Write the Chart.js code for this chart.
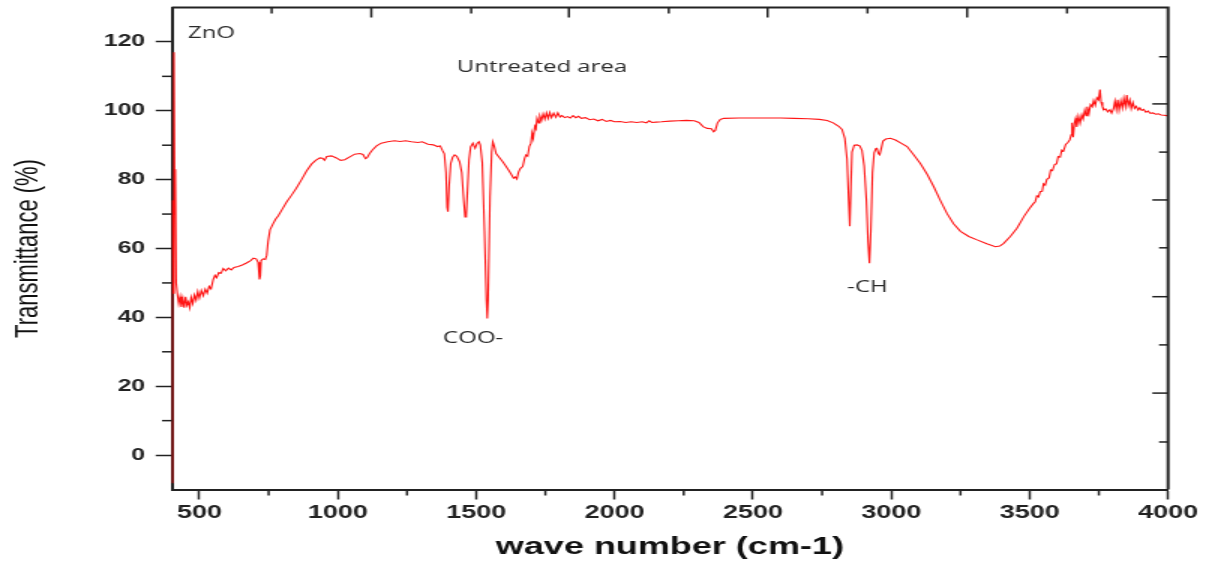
<!DOCTYPE html>
<html>
<head>
<meta charset="utf-8">
<script src="https://cdn.jsdelivr.net/npm/chart.js@4.4.1/dist/chart.umd.min.js"></script>
<style>
  html, body { margin: 0; padding: 0; background: #fff; overflow: hidden; }
  #wrap { width: 806px; height: 563px; transform: scaleX(1.5); transform-origin: 0 0; }
</style>
</head>
<body>
<div id="wrap"><canvas id="c"></canvas></div>
<script>
// ---- data ----
const waveNumbers = [400,402,405,408,411,413,416,420,425,430,435,440,445,450,455,460,465,470,476,482,488,494,500,507,514,521,528,535,542,550,556,562,570,578,586,595,605,615,625,640,655,670,685,695,705,712,717,720,723,730,738,743,748,755,765,775,785,800,815,833,850,869,887,905,920,935,945,952,960,977,995,1010,1025,1045,1061,1080,1091,1100,1106,1115,1125,1140,1157,1180,1205,1225,1245,1266,1290,1305,1326,1345,1360,1370,1378,1385,1391,1395,1398,1402,1408,1415,1422,1430,1440,1448,1455,1460,1464,1468,1474,1480,1488,1496,1503,1510,1515,1522,1530,1537,1540,1543,1550,1556,1560,1565,1572,1580,1588,1596,1605,1615,1625,1635,1641,1647,1653,1660,1668,1675,1680,1686,1692,1698,1702,1706,1712,1716,1720,1726,1730,1736,1742,1748,1754,1760,1766,1772,1780,1788,1795,1803,1810,1820,1830,1840,1850,1860,1870,1880,1895,1910,1925,1940,1955,1970,1985,2000,2020,2040,2060,2080,2100,2115,2125,2135,2150,2170,2200,2230,2260,2288,2305,2320,2335,2350,2358,2364,2372,2382,2395,2450,2528,2600,2648,2700,2740,2768,2790,2810,2822,2832,2840,2846,2850,2854,2858,2866,2876,2886,2894,2902,2910,2916,2921,2926,2932,2938,2944,2948,2954,2958,2963,2970,2980,2997,3015,3035,3057,3080,3105,3130,3153,3177,3201,3225,3250,3280,3310,3345,3376,3392,3406,3430,3454,3480,3500,3514,3520,3526,3532,3538,3545,3550,3556,3562,3570,3576,3582,3590,3597,3603,3610,3616,3622,3630,3638,3645,3650,3653,3657,3662,3666,3670,3676,3682,3688,3693,3699,3704,3708,3714,3720,3726,3731,3737,3743,3749,3754,3758,3763,3769,3775,3782,3790,3796,3803,3808,3813,3818,3823,3829,3835,3840,3846,3851,3856,3862,3867,3873,3879,3885,3892,3898,3905,3912,3920,3928,3935,3945,3955,3965,3975,3985,3995,4000];
const transmittance = [-8,74,47,117,70,83,50,47,44,46,43,45.5,42.8,46,43.5,44.5,42.8,45.8,44,46.5,45,47.5,45.6,47.8,46.3,48.2,47,49,48.3,51,52.2,51.5,53,52.8,54.2,53.5,54.3,53.8,54.5,54.8,55.2,55.8,56.5,57.2,57,56,51,52,56.5,57,56.8,58,62,65.4,67,68.5,69.5,71.5,73.5,75.5,77.5,80,82.5,84.5,85.6,86.3,86.2,85.6,86.7,86.9,86.3,85.6,85.8,86.7,87.4,87.6,87.3,86.1,86.4,87.6,88.6,89.8,90.6,91,91.3,91.1,91.3,91,90.8,91,90.3,90.1,89.6,89.8,88.5,87.5,82,72,70.7,78,84.7,86.5,87.2,86.8,85.2,82,74,69.2,69.5,76,85.7,89.5,90.6,89.1,90.5,91,90,85,65,45,39.7,45,75,88,91,89.8,87.6,86.8,86,85.2,84.2,83,81.8,80.4,80.8,80.2,82.2,83.3,83.8,86.2,87.2,86.8,89.6,90.6,93.5,92,95.5,94.8,97.8,96.5,98.5,97.2,99.1,97.6,99.4,97.8,99.5,98,99.3,98.1,99.4,98.2,98.6,98,98.3,97.9,98.6,98,98.4,97.8,98,97.4,97.6,97.1,97.5,96.9,97.2,96.8,96.9,96.6,96.8,96.6,96.8,96.5,97.1,96.6,96.7,96.8,97,97.1,97.2,97.1,96.6,95.4,94.9,94.8,93.9,94.3,96.5,97.5,97.8,97.9,97.9,97.9,97.8,97.7,97.5,97.2,96.5,95.5,94.6,92,86,74,66.5,78,88,90,90.1,89.8,88.5,84,74,62,55.7,65,82,87.8,89,89.1,87.5,87.2,88.8,91.2,91.8,92,91.5,90.6,89.6,87.3,84.7,81.5,78,74,70.2,67.2,65,63.5,62.5,61.4,60.5,60.7,61.5,63.5,65.9,69.4,71.7,73.1,73.6,75.3,75,76.5,76.6,78.8,78.4,80.1,80.5,82.8,82.6,84.4,84.6,86.7,86.5,88.6,88.3,90.2,90.8,91.6,93,96.5,92.3,96.6,97.8,95.3,98.4,96.4,98.8,97.6,100.2,98.6,101.2,99.2,101.8,101.2,103,101.6,103.8,103.2,106.2,102.5,101.2,100.3,100.5,99.7,100.3,99.3,100.6,102.8,100.4,103.2,100.2,102.9,100.8,103.6,101.2,104.6,101.5,103.1,100.6,102.4,100.7,101.3,100.2,100.9,100.1,100.4,99.6,99.9,99.3,99.4,99,99.1,98.8,98.7,98.6,98.5];

// axis ranges and tick values
const xRange = [400, 4000];
const yRange = [-10, 130];
const xMajorTicks = [500, 1000, 1500, 2000, 2500, 3000, 3500, 4000];
const yMajorTicks = [0, 20, 40, 60, 80, 100, 120];
const xMinorTicks = [750, 1250, 1750, 2250, 2750, 3250, 3750];
const yMinorTicks = [10, 30, 50, 70, 90, 110];
const topMajorTicks = [1121, 1835, 2553, 3274];
const topMinorTicks = [761, 1482, 2196, 2914, 3635];
const rightMajorTicks = [102, 74.1, 46, 18];
const rightMinorTicks = [115.7, 88, 60.2, 32, 3.8];

// text labels on the plot (wave number, transmittance)
const noteTexts = ['ZnO', 'Untreated area', 'COO-', '-CH'];
const noteX = [544, 1738, 1489, 2914];
const noteY = [122.6, 112.7, 34, 48.8];

const points = waveNumbers.map((w, i) => ({ x: w, y: transmittance[i] }));
const AX = '#222';

const framePlugin = {
  id: 'frame',
  afterDatasetsDraw(chart) {
    const { ctx, chartArea: a, scales: { x, y } } = chart;
    ctx.save();
    ctx.strokeStyle = AX;
    ctx.lineWidth = 2;
    ctx.beginPath();
    ctx.moveTo(a.left, a.top); ctx.lineTo(a.right, a.top); ctx.lineTo(a.right, a.bottom);
    ctx.stroke();
    ctx.lineWidth = 1.5;
    const hTick = (yy, x0, x1) => { ctx.beginPath(); ctx.moveTo(x0, yy); ctx.lineTo(x1, yy); ctx.stroke(); };
    const vTick = (xx, y0, y1) => { ctx.beginPath(); ctx.moveTo(xx, y0); ctx.lineTo(xx, y1); ctx.stroke(); };
    yMinorTicks.forEach(v => hTick(y.getPixelForValue(v), a.left - 6.5, a.left));
    xMinorTicks.forEach(v => vTick(x.getPixelForValue(v), a.bottom, a.bottom + 6));
    topMajorTicks.forEach(v => vTick(x.getPixelForValue(v), a.top, a.top + 10));
    topMinorTicks.forEach(v => vTick(x.getPixelForValue(v), a.top, a.top + 6));
    rightMajorTicks.forEach(v => hTick(y.getPixelForValue(v), a.right - 10.5, a.right));
    rightMinorTicks.forEach(v => hTick(y.getPixelForValue(v), a.right - 6, a.right));
    ctx.fillStyle = '#2a2a2a';
    ctx.font = '16px "Open Sans"';
    ctx.textAlign = 'center';
    ctx.textBaseline = 'middle';
    noteTexts.forEach((t, i) => ctx.fillText(t, x.getPixelForValue(noteX[i]), y.getPixelForValue(noteY[i])));
    ctx.restore();
  }
};

new Chart(document.getElementById('c'), {
  type: 'line',
  data: {
    datasets: [{
      data: points,
      borderColor: 'rgba(255,10,10,0.95)',
      borderWidth: 1.1,
      pointRadius: 0,
      tension: 0,
      fill: false
    }]
  },
  options: {
    responsive: true,
    maintainAspectRatio: false,
    animation: false,
    layout: { padding: { left: 0, right: 27.3, top: 7.5, bottom: 0 } },
    plugins: { legend: { display: false }, tooltip: { enabled: false } },
    scales: {
      x: {
        type: 'linear',
        min: xRange[0], max: xRange[1],
        afterBuildTicks(s) { s.ticks = xMajorTicks.map(v => ({ value: v })); },
        ticks: {
          autoSkip: false, maxRotation: 0, minRotation: 0,
          color: AX, padding: 3,
          callback: v => String(v),
          font: { family: '"Liberation Sans", Arial, sans-serif', size: 18, weight: 'bold' }
        },
        grid: { drawOnChartArea: false, tickLength: 10, tickWidth: 1.5, tickColor: AX },
        border: { color: AX, width: 2 },
        title: {
          display: true, text: 'wave number (cm-1)', color: '#111',
          font: { family: '"Liberation Sans", Arial, sans-serif', size: 24, weight: 'bold' },
          padding: { top: 0, bottom: 1 }
        },
        afterFit(s) { s.height = 563 - 489.5; s.paddingLeft = 0; s.paddingRight = 0; }
      },
      y: {
        type: 'linear',
        min: yRange[0], max: yRange[1],
        afterBuildTicks(s) { s.ticks = yMajorTicks.map(v => ({ value: v })); },
        ticks: {
          autoSkip: false,
          color: AX, padding: 7,
          callback: v => String(v),
          font: { family: '"Liberation Sans", Arial, sans-serif', size: 16.5, weight: 'bold' }
        },
        grid: { drawOnChartArea: false, tickLength: 10.7, tickWidth: 1.5, tickColor: AX },
        border: { color: AX, width: 2 },
        title: {
          display: true, text: 'Transmittance (%)', color: '#111',
          font: { family: '"Liberation Sans", Arial, sans-serif', size: 22, weight: 'normal' },
          padding: { top: 5.5, bottom: 0 }
        },
        afterFit(s) { s.width = 114.5; s.paddingTop = 0; s.paddingBottom = 0; }
      }
    }
  },
  plugins: [framePlugin]
});
</script>
</body>
</html>
